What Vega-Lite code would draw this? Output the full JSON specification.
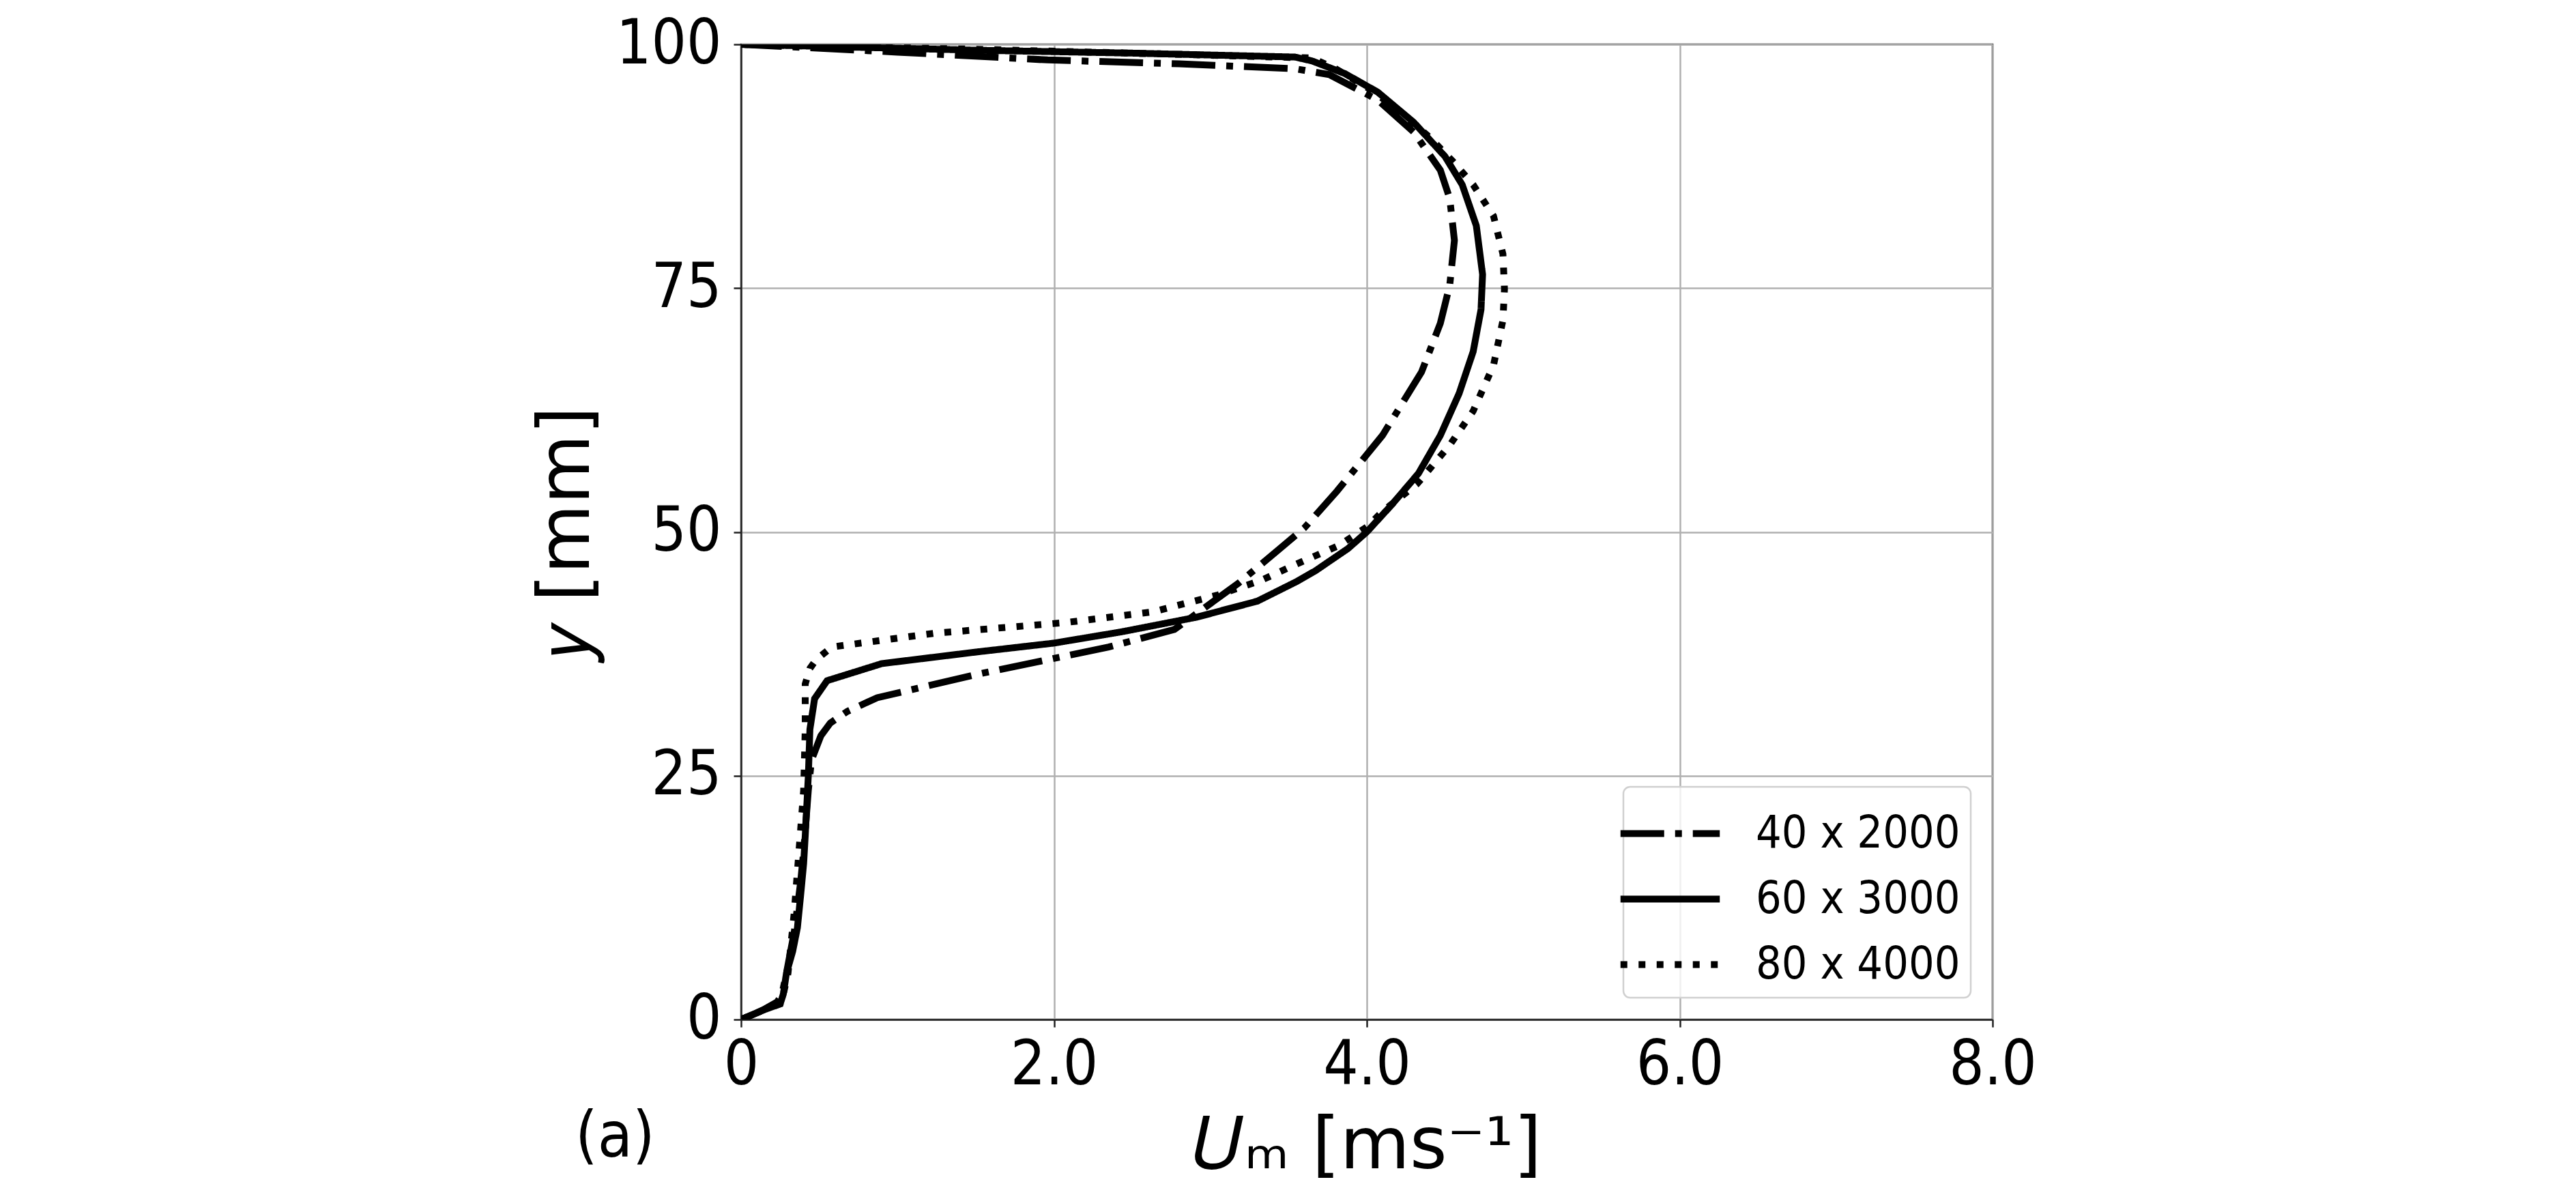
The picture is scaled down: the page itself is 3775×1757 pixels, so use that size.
{
  "$schema": "https://vega.github.io/schema/vega-lite/v6.json",
  "width": 1834,
  "height": 1429,
  "autosize": {"type": "none"},
  "padding": {"left": 1086, "top": 65, "right": 855, "bottom": 263},
  "background": "white",
  "title": {"text": "(a)", "orient": "bottom", "anchor": "start", "frame": "group", "dx": -243, "offset": -110, "fontSize": 93, "font": "DejaVu Sans Condensed", "fontWeight": "normal", "color": "black"},
  "config": {
    "view": {"stroke": "#222", "strokeWidth": 2.5},
    "axis": {
      "grid": true, "gridColor": "#b0b0b0", "gridWidth": 2.5,
      "domainColor": "#222", "domainWidth": 2.5,
      "tickColor": "#222", "tickWidth": 2.5, "tickSize": 11,
      "labelFont": "DejaVu Sans Condensed", "labelFontSize": 90, "labelColor": "black", "labelFlush": false,
      "titleFont": "DejaVu Sans", "titleFontSize": 105, "titleColor": "black", "titleFontWeight": "normal"
    },
    "legend": {
      "orient": "bottom-right", "offset": 32, "padding": 15,
      "strokeColor": "#d0d0d0", "strokeWidth": 2.5, "fillColor": "rgba(255,255,255,0.8)", "cornerRadius": 10,
      "labelFont": "DejaVu Sans Condensed", "labelFontSize": 66, "labelColor": "black", "labelOffset": 72, "labelLimit": 0,
      "symbolType": "M-1.5,0H1.5", "symbolSize": 9409, "symbolStrokeWidth": 10, "symbolStrokeColor": "black",
      "rowPadding": 9
    }
  },
  "data": {"values": [
    {"mesh":"40 x 2000","i":0,"u":0,"y":0},
    {"mesh":"40 x 2000","i":1,"u":0.12,"y":0.8},
    {"mesh":"40 x 2000","i":2,"u":0.23,"y":1.8},
    {"mesh":"40 x 2000","i":3,"u":0.26,"y":2.5},
    {"mesh":"40 x 2000","i":4,"u":0.29,"y":4.75},
    {"mesh":"40 x 2000","i":5,"u":0.34,"y":9},
    {"mesh":"40 x 2000","i":6,"u":0.38,"y":14},
    {"mesh":"40 x 2000","i":7,"u":0.40,"y":17.25},
    {"mesh":"40 x 2000","i":8,"u":0.43,"y":23.5},
    {"mesh":"40 x 2000","i":9,"u":0.45,"y":26.6},
    {"mesh":"40 x 2000","i":10,"u":0.51,"y":29.1},
    {"mesh":"40 x 2000","i":11,"u":0.57,"y":30.4},
    {"mesh":"40 x 2000","i":12,"u":0.68,"y":31.6},
    {"mesh":"40 x 2000","i":13,"u":0.87,"y":33},
    {"mesh":"40 x 2000","i":14,"u":1.51,"y":35.4},
    {"mesh":"40 x 2000","i":15,"u":2.35,"y":38.2},
    {"mesh":"40 x 2000","i":16,"u":2.77,"y":40},
    {"mesh":"40 x 2000","i":17,"u":2.91,"y":41.6},
    {"mesh":"40 x 2000","i":18,"u":3.18,"y":44.75},
    {"mesh":"40 x 2000","i":19,"u":3.46,"y":48.5},
    {"mesh":"40 x 2000","i":20,"u":3.6,"y":50.4},
    {"mesh":"40 x 2000","i":21,"u":3.81,"y":54.2},
    {"mesh":"40 x 2000","i":22,"u":4.10,"y":59.9},
    {"mesh":"40 x 2000","i":23,"u":4.35,"y":66.4},
    {"mesh":"40 x 2000","i":24,"u":4.47,"y":71.4},
    {"mesh":"40 x 2000","i":25,"u":4.53,"y":75.3},
    {"mesh":"40 x 2000","i":26,"u":4.56,"y":79.9},
    {"mesh":"40 x 2000","i":27,"u":4.53,"y":84.2},
    {"mesh":"40 x 2000","i":28,"u":4.47,"y":87.1},
    {"mesh":"40 x 2000","i":29,"u":4.30,"y":91},
    {"mesh":"40 x 2000","i":30,"u":4.07,"y":94.3},
    {"mesh":"40 x 2000","i":31,"u":3.76,"y":96.9},
    {"mesh":"40 x 2000","i":32,"u":3.54,"y":97.5},
    {"mesh":"40 x 2000","i":33,"u":2.8,"y":98.0},
    {"mesh":"40 x 2000","i":34,"u":1.96,"y":98.4},
    {"mesh":"40 x 2000","i":35,"u":1.0,"y":99.2},
    {"mesh":"40 x 2000","i":36,"u":0,"y":100},
    {"mesh":"60 x 3000","i":0,"u":0,"y":0},
    {"mesh":"60 x 3000","i":1,"u":0.13,"y":0.9},
    {"mesh":"60 x 3000","i":2,"u":0.25,"y":1.6},
    {"mesh":"60 x 3000","i":3,"u":0.27,"y":2.6},
    {"mesh":"60 x 3000","i":4,"u":0.29,"y":4.75},
    {"mesh":"60 x 3000","i":5,"u":0.33,"y":7},
    {"mesh":"60 x 3000","i":6,"u":0.36,"y":9.4},
    {"mesh":"60 x 3000","i":7,"u":0.38,"y":12.6},
    {"mesh":"60 x 3000","i":8,"u":0.40,"y":16},
    {"mesh":"60 x 3000","i":9,"u":0.41,"y":18.8},
    {"mesh":"60 x 3000","i":10,"u":0.43,"y":25},
    {"mesh":"60 x 3000","i":11,"u":0.44,"y":29.75},
    {"mesh":"60 x 3000","i":12,"u":0.47,"y":32.9},
    {"mesh":"60 x 3000","i":13,"u":0.55,"y":34.75},
    {"mesh":"60 x 3000","i":14,"u":0.90,"y":36.5},
    {"mesh":"60 x 3000","i":15,"u":1.51,"y":37.7},
    {"mesh":"60 x 3000","i":16,"u":2.0,"y":38.6},
    {"mesh":"60 x 3000","i":17,"u":2.43,"y":39.75},
    {"mesh":"60 x 3000","i":18,"u":2.91,"y":41.25},
    {"mesh":"60 x 3000","i":19,"u":3.30,"y":42.9},
    {"mesh":"60 x 3000","i":20,"u":3.55,"y":44.9},
    {"mesh":"60 x 3000","i":21,"u":3.67,"y":46},
    {"mesh":"60 x 3000","i":22,"u":3.88,"y":48.3},
    {"mesh":"60 x 3000","i":23,"u":4.0,"y":50},
    {"mesh":"60 x 3000","i":24,"u":4.16,"y":52.8},
    {"mesh":"60 x 3000","i":25,"u":4.33,"y":56},
    {"mesh":"60 x 3000","i":26,"u":4.47,"y":59.9},
    {"mesh":"60 x 3000","i":27,"u":4.59,"y":64.2},
    {"mesh":"60 x 3000","i":28,"u":4.68,"y":68.5},
    {"mesh":"60 x 3000","i":29,"u":4.73,"y":72.8},
    {"mesh":"60 x 3000","i":30,"u":4.74,"y":76.4},
    {"mesh":"60 x 3000","i":31,"u":4.70,"y":81.4},
    {"mesh":"60 x 3000","i":32,"u":4.61,"y":85.6},
    {"mesh":"60 x 3000","i":33,"u":4.50,"y":88.5},
    {"mesh":"60 x 3000","i":34,"u":4.30,"y":92},
    {"mesh":"60 x 3000","i":35,"u":4.07,"y":95.1},
    {"mesh":"60 x 3000","i":36,"u":3.86,"y":97.0},
    {"mesh":"60 x 3000","i":37,"u":3.65,"y":98.3},
    {"mesh":"60 x 3000","i":38,"u":3.54,"y":98.7},
    {"mesh":"60 x 3000","i":39,"u":2.5,"y":99.1},
    {"mesh":"60 x 3000","i":40,"u":1.5,"y":99.4},
    {"mesh":"60 x 3000","i":41,"u":0.5,"y":99.8},
    {"mesh":"60 x 3000","i":42,"u":0,"y":100},
    {"mesh":"80 x 4000","i":0,"u":0,"y":0},
    {"mesh":"80 x 4000","i":1,"u":0.13,"y":0.9},
    {"mesh":"80 x 4000","i":2,"u":0.25,"y":1.6},
    {"mesh":"80 x 4000","i":3,"u":0.27,"y":2.6},
    {"mesh":"80 x 4000","i":4,"u":0.30,"y":4.75},
    {"mesh":"80 x 4000","i":5,"u":0.34,"y":11},
    {"mesh":"80 x 4000","i":6,"u":0.37,"y":17.25},
    {"mesh":"80 x 4000","i":7,"u":0.40,"y":23.5},
    {"mesh":"80 x 4000","i":8,"u":0.41,"y":29.75},
    {"mesh":"80 x 4000","i":9,"u":0.41,"y":34.4},
    {"mesh":"80 x 4000","i":10,"u":0.44,"y":36},
    {"mesh":"80 x 4000","i":11,"u":0.48,"y":36.9},
    {"mesh":"80 x 4000","i":12,"u":0.58,"y":38.2},
    {"mesh":"80 x 4000","i":13,"u":1.23,"y":39.6},
    {"mesh":"80 x 4000","i":14,"u":2.07,"y":40.7},
    {"mesh":"80 x 4000","i":15,"u":2.63,"y":41.8},
    {"mesh":"80 x 4000","i":16,"u":3.04,"y":43.5},
    {"mesh":"80 x 4000","i":17,"u":3.32,"y":45},
    {"mesh":"80 x 4000","i":18,"u":3.55,"y":46.7},
    {"mesh":"80 x 4000","i":19,"u":3.82,"y":48.6},
    {"mesh":"80 x 4000","i":20,"u":4.0,"y":50.5},
    {"mesh":"80 x 4000","i":21,"u":4.10,"y":52.1},
    {"mesh":"80 x 4000","i":22,"u":4.32,"y":54.9},
    {"mesh":"80 x 4000","i":23,"u":4.53,"y":58.9},
    {"mesh":"80 x 4000","i":24,"u":4.68,"y":62.4},
    {"mesh":"80 x 4000","i":25,"u":4.81,"y":67.1},
    {"mesh":"80 x 4000","i":26,"u":4.87,"y":71.7},
    {"mesh":"80 x 4000","i":27,"u":4.88,"y":74.9},
    {"mesh":"80 x 4000","i":28,"u":4.87,"y":78.5},
    {"mesh":"80 x 4000","i":29,"u":4.81,"y":82.4},
    {"mesh":"80 x 4000","i":30,"u":4.68,"y":85.6},
    {"mesh":"80 x 4000","i":31,"u":4.55,"y":88.0},
    {"mesh":"80 x 4000","i":32,"u":4.40,"y":90.5},
    {"mesh":"80 x 4000","i":33,"u":4.18,"y":93.5},
    {"mesh":"80 x 4000","i":34,"u":4.02,"y":95.4},
    {"mesh":"80 x 4000","i":35,"u":3.80,"y":97.5},
    {"mesh":"80 x 4000","i":36,"u":3.65,"y":98.6},
    {"mesh":"80 x 4000","i":37,"u":2.5,"y":99.1},
    {"mesh":"80 x 4000","i":38,"u":1.5,"y":99.5},
    {"mesh":"80 x 4000","i":39,"u":0.5,"y":99.8},
    {"mesh":"80 x 4000","i":40,"u":0,"y":100}
  ]},
  "mark": {"type": "line", "color": "black", "strokeWidth": 10, "clip": true},
  "encoding": {
    "x": {"field": "u", "type": "quantitative",
      "scale": {"domain": [0, 8], "nice": false, "zero": false},
      "axis": {"values": [0, 2, 4, 6, 8], "labelExpr": "datum.value == 0 ? '0' : format(datum.value, '.1f')", "labelPadding": 12, "title": "𝑈ₘ [ms⁻¹]", "titlePadding": 22}
    },
    "y": {"field": "y", "type": "quantitative",
      "scale": {"domain": [0, 100], "nice": false, "zero": false},
      "axis": {"values": [0, 25, 50, 75, 100], "labelPadding": 18, "title": "𝑦 [mm]", "titlePadding": 18}
    },
    "strokeDash": {"field": "mesh", "type": "nominal",
      "scale": {"domain": ["40 x 2000", "60 x 3000", "80 x 4000"], "range": [[64, 16, 10, 16], [1, 0], [10, 16.5]]},
      "legend": {"title": null}
    },
    "order": {"field": "i", "type": "quantitative"}
  }
}
